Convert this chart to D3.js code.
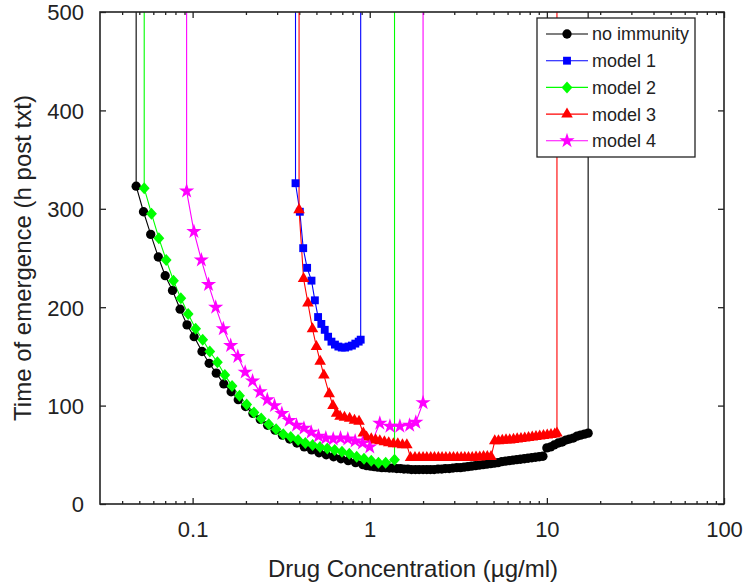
<!DOCTYPE html>
<html><head><meta charset="utf-8">
<script src="https://cdn.jsdelivr.net/npm/d3@7"></script>
<style>
html,body{margin:0;padding:0;background:#fff;}
text{font-family:"Liberation Sans",Arial,Helvetica,sans-serif;fill:#222;}
</style></head>
<body><svg id="chart" width="750" height="586"></svg>
<script>
// ---- data ----
const seriesNames = ["no immunity", "model 1", "model 2", "model 3", "model 4"];
const seriesColors = ["#000000", "#0000ff", "#00ff00", "#ff0000", "#ff00ff"];
const seriesMarkers = ["circle", "square", "diamond", "triangle", "star"];

const concNoImmunity = [0.048,0.0528,0.058,0.064,0.070,0.077,0.085,0.093,0.102,0.113,0.124,0.136,0.150,0.165,0.181,0.199,0.219,0.241,0.265,0.292,0.321,0.353,0.388,0.427,0.470,0.517,0.568,0.625,0.688,0.756,0.832,0.915,0.96,1.01,1.06,1.11,1.17,1.23,1.29,1.35,1.42,1.49,1.56,1.64,1.72,1.81,1.90,2.0,2.1,2.2,2.31,2.43,2.55,2.67,2.81,2.95,3.1,3.25,3.41,3.58,3.76,3.95,4.15,4.36,4.58,4.81,5.05,5.3,5.56,5.84,6.13,6.44,6.76,7.1,7.46,7.83,8.22,8.63,9.06,9.5,10.0,10.5,11.0,11.6,12.2,12.8,13.4,14.1,14.8,15.5,16.3,17.1];
const timeNoImmunity = [323,297,274,251,232,217,198,182,170,155,143,133,122,114,106,99,92,86,80,75,70,66,62,58,55,52,50,48,46,44,42,40,39,38.5,38,37.5,37,37,36.5,36.5,36,36,35.5,35.5,35,35,35,35,35,35,35,35.5,35.5,36,36,36.5,37,37,37.5,38,38.5,39,39.5,40,40.5,41,41.5,42,43,43.5,44,44.5,45,45.5,46,46.5,47,47.5,48,48.5,57,58,60,62,63,65,66,67,69,70,71,72];

const concModel1 = [0.381,0.403,0.421,0.443,0.469,0.490,0.511,0.533,0.557,0.582,0.608,0.636,0.665,0.695,0.726,0.759,0.793,0.829,0.866,0.889];
const timeModel1 = [326,297,260,240,227,207,190,183,177,170,165,162,160,159,159,160,161,163,165,167];

const concModel2 = [0.0533,0.0586,0.0645,0.0709,0.078,0.0858,0.0944,0.104,0.114,0.125,0.138,0.152,0.167,0.184,0.202,0.222,0.244,0.269,0.296,0.325,0.358,0.394,0.433,0.476,0.524,0.576,0.634,0.697,0.767,0.844,0.928,1.02,1.12,1.23,1.38];
const timeModel2 = [321,295,270,248,227,209,193,178,167,155,144,131,120,110,101,93,87,81,76,71,68,65,62,60,58,56.5,55,53,51,48,46,44,42,42,45];

const concModel3 = [0.399,0.423,0.448,0.475,0.50,0.525,0.551,0.59,0.62,0.65,0.68,0.72,0.77,0.82,0.87,0.92,0.96,1.02,1.08,1.14,1.21,1.28,1.36,1.44,1.53,1.62,1.70,1.80,1.90,2.0,2.1,2.21,2.32,2.44,2.56,2.69,2.83,2.97,3.12,3.28,3.44,3.61,3.79,3.98,4.18,4.39,4.61,4.84,5.08,5.33,5.6,5.88,6.17,6.48,6.8,7.14,7.5,7.88,8.27,8.68,9.11,9.57,10.05,10.55,11.08,11.4];
const timeModel3 = [299,229,204,178,160,145,131,112,100,92,89,88,87,85,84,72,68,66,65,64,63,62,61,61,60,60,47,47,47,47,47,47,47,47,47,47,47,47,47,47,47,47,47,47.5,47.5,48,48,48,64,64,64.5,65,65,65.5,66,66.5,67,67.5,68,68.5,69,69.5,70,70.5,71,72];

const concModel4 = [0.0925,0.1017,0.112,0.123,0.135,0.149,0.164,0.180,0.198,0.218,0.240,0.264,0.290,0.319,0.351,0.386,0.425,0.467,0.514,0.565,0.622,0.684,0.752,0.827,0.910,1.00,1.14,1.30,1.48,1.68,1.82,2.0];
const timeModel4 = [318,277,248,223,200,178,161,150,134,125,114,106,100,92,85,80,77,73,69,67,66,67,66,64,62,58,82,79,79,80,83,103];

const xTicks = [0.1, 1, 10, 100];
const yTicks = [0, 100, 200, 300, 400, 500];
const xTitle = "Drug Concentration (\u00b5g/ml)";
const yTitle = "Time of emergence (h post txt)";

const series = [
  {x: concNoImmunity, y: timeNoImmunity},
  {x: concModel1, y: timeModel1},
  {x: concModel2, y: timeModel2},
  {x: concModel3, y: timeModel3},
  {x: concModel4, y: timeModel4}
].map((s, i) => ({name: seriesNames[i], color: seriesColors[i], marker: seriesMarkers[i],
  pts: s.x.map((c, j) => ({c, t: s.y[j]}))}));

// ---- layout ----
const svg = d3.select("#chart");
const L = 100, R = 724, T = 12, B = 504;
const x = d3.scaleLog().domain([0.03, 100]).range([L, R]);
const y = d3.scaleLinear().domain([0, 500]).range([B, T]);
const frameColor = "#222";

svg.append("defs").append("clipPath").attr("id", "clip")
  .append("rect").attr("x", L).attr("y", T).attr("width", R - L).attr("height", B - T);

const minorX = [];
[0.01, 0.1, 1, 10].forEach(d => { for (let k = 2; k <= 9; k++) { const v = d * k; if (v > 0.03 && v < 100) minorX.push(v); } });

const gx = svg.append("g").attr("transform", `translate(0,${B})`)
  .call(d3.axisBottom(x).tickValues(xTicks).tickFormat(d3.format("~g")).tickSize(-6).tickPadding(17));
const gxMinor = svg.append("g").attr("transform", `translate(0,${B})`)
  .call(d3.axisBottom(x).tickValues(minorX).tickFormat("").tickSize(-3));
const gxTop = svg.append("g").attr("transform", `translate(0,${T})`)
  .call(d3.axisTop(x).tickValues(xTicks).tickFormat("").tickSize(-6));
const gxTopMinor = svg.append("g").attr("transform", `translate(0,${T})`)
  .call(d3.axisTop(x).tickValues(minorX).tickFormat("").tickSize(-3));
const gy = svg.append("g").attr("transform", `translate(${L},0)`)
  .call(d3.axisLeft(y).tickValues(yTicks).tickSize(-6).tickPadding(16));
const gyR = svg.append("g").attr("transform", `translate(${R},0)`)
  .call(d3.axisRight(y).tickValues(yTicks).tickFormat("").tickSize(-6));

[gx, gxMinor, gxTop, gxTopMinor, gy, gyR].forEach(g => {
  g.select(".domain").remove();
  g.selectAll(".tick line").attr("stroke", frameColor).attr("stroke-width", 1.3);
  g.selectAll(".tick text").style("font-size", "22px").attr("fill", "#222")
    .style("font-family", '"Liberation Sans", Arial, sans-serif');
});
gy.selectAll(".tick text").attr("dy", "0.36em");

const plot = svg.append("g").attr("clip-path", "url(#clip)");
const line = d3.line().x(d => x(d.c)).y(d => y(d.t));
const yTop = y.domain()[1];

function markerPath(type) {
  if (type === "circle") return d3.symbol(d3.symbolCircle, 68)();
  if (type === "square") return d3.symbol(d3.symbolSquare, 62)();
  if (type === "triangle") return d3.symbol(d3.symbolTriangle, 58)();
  if (type === "star") return d3.symbol(d3.symbolStar, 72)();
  if (type === "diamond") { const r = 6; return `M0,${-r}L${r*0.9},0L0,${r}L${-r*0.9},0Z`; }
}

series.forEach(s => {
  const first = s.pts[0], last = s.pts[s.pts.length - 1];
  const full = [{c: first.c, t: yTop * 1.02}, ...s.pts, {c: last.c, t: yTop * 1.02}];
  plot.append("path").datum(full).attr("d", line)
    .attr("fill", "none").attr("stroke", s.color).attr("stroke-width", 1.1);
});
series.forEach(s => {
  plot.append("g").selectAll("path").data(s.pts).join("path")
    .attr("d", markerPath(s.marker))
    .attr("transform", d => `translate(${x(d.c)},${y(d.t)})`)
    .attr("fill", s.color);
});

svg.append("rect").attr("x", L).attr("y", T).attr("width", R - L).attr("height", B - T)
  .attr("fill", "none").attr("stroke", frameColor).attr("stroke-width", 1.6);

svg.append("text").attr("x", 413).attr("y", 577).attr("text-anchor", "middle")
  .style("font-size", "24px").text(xTitle);
svg.append("text").attr("transform", `translate(31,${(T + B) / 2}) rotate(-90)`)
  .attr("text-anchor", "middle").style("font-size", "24px").text(yTitle);

const lg = svg.append("g");
lg.append("rect").attr("x", 537).attr("y", 18).attr("width", 158).attr("height", 139)
  .attr("fill", "#fff").attr("stroke", frameColor).attr("stroke-width", 1.3);
series.forEach((s, i) => {
  const yy = 34 + i * 26.7;
  lg.append("line").attr("x1", 546).attr("x2", 588).attr("y1", yy).attr("y2", yy)
    .attr("stroke", s.color).attr("stroke-width", 1.1);
  lg.append("path").attr("d", markerPath(s.marker)).attr("transform", `translate(567,${yy})`).attr("fill", s.color);
  lg.append("text").attr("x", 592).attr("y", yy).attr("dy", "0.36em")
    .style("font-size", "18px").text(s.name);
});
</script></body></html>
